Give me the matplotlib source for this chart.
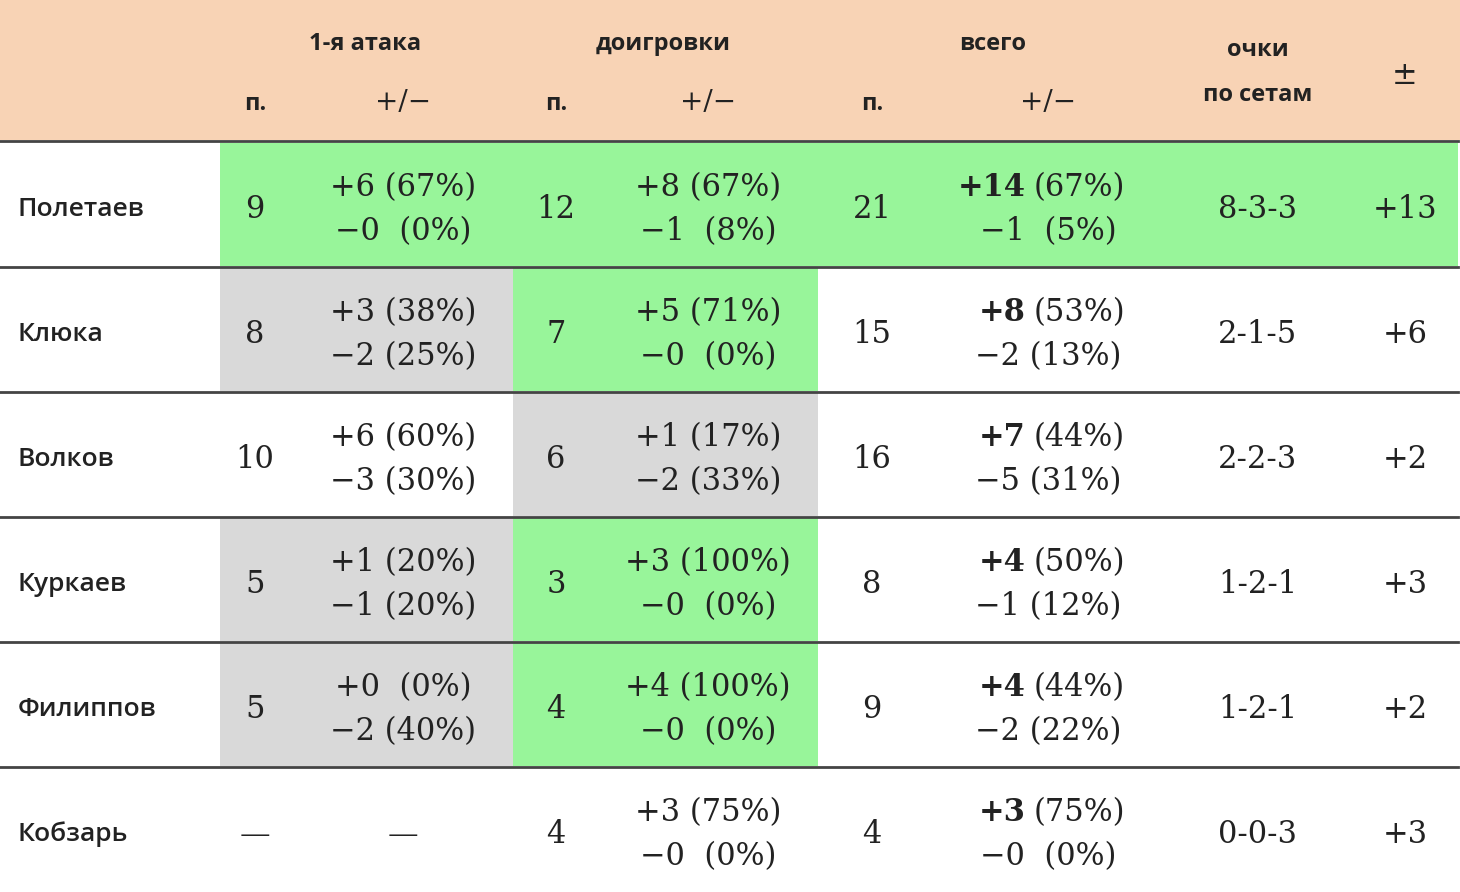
import matplotlib
matplotlib.use("Agg")
import matplotlib.pyplot as plt
from matplotlib.patches import Rectangle

names = ["Полетаев", "Клюка", "Волков", "Куркаев", "Филиппов", "Кобзарь"]
att_n = ["9", "8", "10", "5", "5", "—"]
att_pm = [("+6 (67%)", "−0  (0%)"), ("+3 (38%)", "−2 (25%)"), ("+6 (60%)", "−3 (30%)"),
          ("+1 (20%)", "−1 (20%)"), ("+0  (0%)", "−2 (40%)"), None]
dog_n = ["12", "7", "6", "3", "4", "4"]
dog_pm = [("+8 (67%)", "−1  (8%)"), ("+5 (71%)", "−0  (0%)"), ("+1 (17%)", "−2 (33%)"),
          ("+3 (100%)", "−0  (0%)"), ("+4 (100%)", "−0  (0%)"), ("+3 (75%)", "−0  (0%)")]
tot_n = ["21", "15", "16", "8", "9", "4"]
tot_plus = ["+14", "+8", "+7", "+4", "+4", "+3"]
tot_plus_pct = ["(67%)", "(53%)", "(44%)", "(50%)", "(44%)", "(75%)"]
tot_minus = ["−1  (5%)", "−2 (13%)", "−5 (31%)", "−1 (12%)", "−2 (22%)", "−0  (0%)"]
sets = ["8-3-3", "2-1-5", "2-2-3", "1-2-1", "1-2-1", "0-0-3"]
pm = ["+13", "+6", "+2", "+3", "+2", "+3"]
shade = [("full", None), ("s", "g"), (None, "s"), ("s", "g"), ("s", "g"), (None, None)]

W, H = 1460, 892
fig = plt.figure(figsize=(W/100, H/100), dpi=100)
ax = fig.add_axes([0, 0, 1, 1])
ax.set_xlim(0, W); ax.set_ylim(H, 0); ax.axis("off")

green = "#98F59A"; grey = "#D9D9D9"; peach = "#F8D3B5"
ax.add_patch(Rectangle((0, 0), W, 140, color=peach, lw=0))
row_top = [143, 268, 393, 518, 643, 768]
rh = 123
for i, (a, d) in enumerate(shade):
    y = row_top[i]
    if a == "full":
        ax.add_patch(Rectangle((220, y), 1238, rh, color=green, lw=0))
    else:
        if a == "s":
            ax.add_patch(Rectangle((220, y), 293, rh, color=grey, lw=0))
        if d:
            ax.add_patch(Rectangle((513, y), 305, rh, color=green if d == "g" else grey, lw=0))
for y in [141, 267, 392, 517, 642, 767]:
    ax.plot([0, 1458], [y, y], color="#444444", lw=2)

sans = "Open Sans"; serif = "DejaVu Serif"
hc = "#222222"
def t(x, y, s, **kw):
    kw.setdefault("ha", "center"); kw.setdefault("va", "center")
    ax.text(x, y, s, **kw)

hs = 17
t(365, 44, "1-я атака", family=sans, fontsize=hs, weight="bold", color=hc)
t(663, 44, "доигровки", family=sans, fontsize=hs, weight="bold", color=hc)
t(993, 44, "всего", family=sans, fontsize=hs, weight="bold", color=hc)
t(1258, 50, "очки", family=sans, fontsize=hs, weight="bold", color=hc)
t(1258, 95, "по сетам", family=sans, fontsize=hs, weight="bold", color=hc)
t(1405, 75, "±", family=serif, fontsize=22, color=hc)
for x in [255, 556, 872]:
    t(x, 104, "п.", family=sans, fontsize=hs, weight="bold", color=hc)
for x in [403, 708, 1048]:
    t(x, 102, "+/−", family=serif, fontsize=20, color=hc)

fs = 22
for i in range(6):
    yc = row_top[i] + rh/2 + 5
    t(18, yc, names[i], family=sans, fontsize=19, weight="semibold", color=hc, ha="left")
    t(255, yc, att_n[i], family=serif, fontsize=fs, color=hc)
    if att_pm[i]:
        t(403, yc - 22, att_pm[i][0], family=serif, fontsize=fs, color=hc)
        t(403, yc + 22, att_pm[i][1], family=serif, fontsize=fs, color=hc)
    else:
        t(403, yc, "—", family=serif, fontsize=fs, color=hc)
    t(556, yc, dog_n[i], family=serif, fontsize=fs, color=hc)
    t(708, yc - 22, dog_pm[i][0], family=serif, fontsize=fs, color=hc)
    t(708, yc + 22, dog_pm[i][1], family=serif, fontsize=fs, color=hc)
    t(872, yc, tot_n[i], family=serif, fontsize=fs, color=hc)
    t(1026, yc - 22, tot_plus[i], family=serif, fontsize=fs, weight="bold", color=hc, ha="right")
    t(1034, yc - 22, tot_plus_pct[i], family=serif, fontsize=fs, color=hc, ha="left")
    t(1048, yc + 22, tot_minus[i], family=serif, fontsize=fs, color=hc)
    t(1258, yc, sets[i], family=serif, fontsize=fs, color=hc)
    t(1405, yc, pm[i], family=serif, fontsize=fs, color=hc)

fig.savefig("out.png", dpi=100)
